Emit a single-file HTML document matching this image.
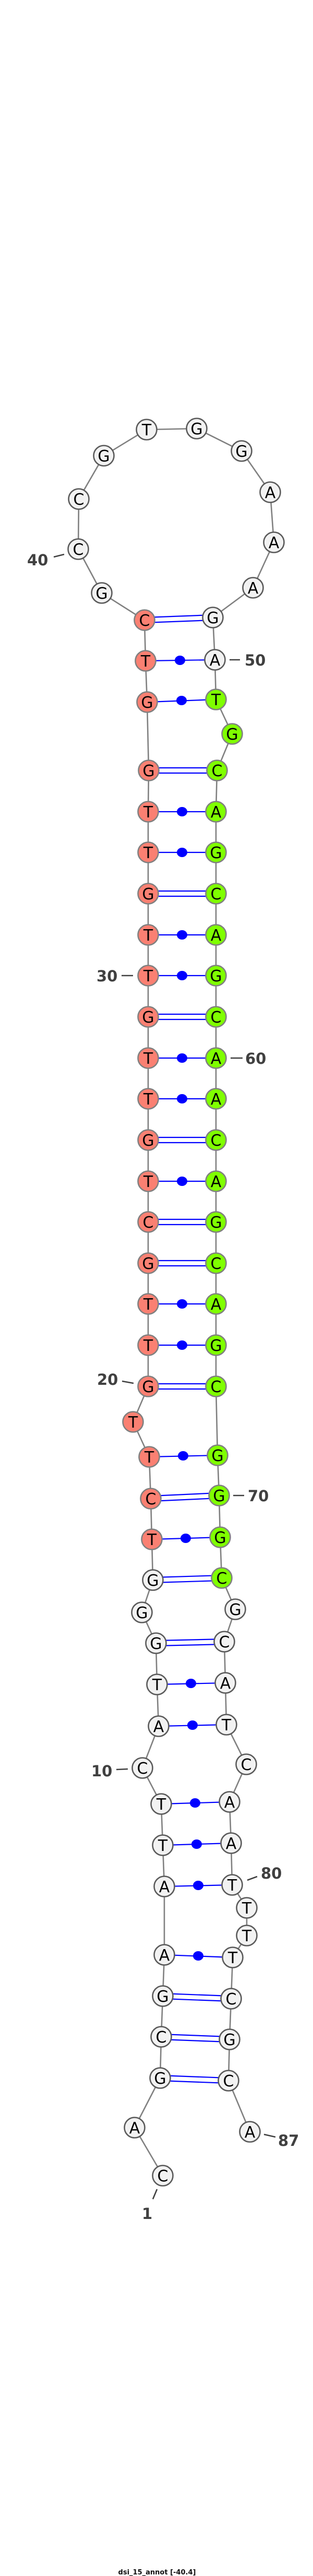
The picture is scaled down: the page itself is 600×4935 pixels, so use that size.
<!DOCTYPE html>
<html><head><meta charset="utf-8"><style>
html,body{margin:0;padding:0;background:#fff;width:600px;height:4935px;overflow:hidden}
svg{display:block}
.n{stroke-width:2.6}
.w{fill:#f2f2f2;stroke:#5a5a5a}
.r{fill:#fa8072;stroke:#808080}
.g{fill:#7fff00;stroke:#808080}
.t{font-family:"DejaVu Sans","Liberation Sans",sans-serif;font-size:30px;text-anchor:middle;fill:#000}
.l{font-family:"DejaVu Sans","Liberation Sans",sans-serif;font-size:29px;font-weight:bold;fill:#404040}
.k{stroke:#404040;stroke-width:2.6}
.p{stroke:#0000ff;stroke-width:2.2}
</style></head><body>
<svg width="600" height="4935" viewBox="0 0 600 4935" xmlns="http://www.w3.org/2000/svg">
<polyline fill="none" stroke="#808080" stroke-width="2.6" points="312,4168 258,4076 307,3981 309,3902 312,3824 315,3745 315,3614 312,3535 309,3456 273,3387 304,3307 301,3227 299,3148 272,3089 293,3027 291,2949 289,2871 286,2791 255,2724 284,2656 284,2577 284,2498 284,2420 284,2341 284,2263 284,2184 284,2105 284,2027 284,1948 284,1869 284,1791 284,1712 284,1633 284,1555 285,1476 282,1345 279,1266 277,1188 195,1136 150,1052 151,956 199,873 281,823 377,821 463,864 518,943 525,1039 485,1126 408,1183 412,1264 414,1340 445,1406 416,1476 414,1555 414,1633 414,1712 414,1791 414,1869 414,1948 414,2027 414,2105 414,2184 414,2263 414,2341 414,2420 414,2498 414,2577 414,2656 417,2788 420,2865 422,2945 425,3023 451,3083 430,3145 432,3224 434,3304 472,3380 440,3452 443,3531 445,3611 473,3655 473,3708 446,3750 443,3829 440,3907 438,3986 479,4084"/>
<!-- double pairs -->
<g class="p">
<line x1="277" y1="1183" x2="408" y2="1178"/><line x1="277" y1="1193" x2="408" y2="1188"/>
<line x1="285" y1="1471" x2="416" y2="1471"/><line x1="285" y1="1481" x2="416" y2="1481"/>
<line x1="284" y1="1707" x2="414" y2="1707"/><line x1="284" y1="1717" x2="414" y2="1717"/>
<line x1="284" y1="1943" x2="414" y2="1943"/><line x1="284" y1="1953" x2="414" y2="1953"/>
<line x1="284" y1="2179" x2="414" y2="2179"/><line x1="284" y1="2189" x2="414" y2="2189"/>
<line x1="284" y1="2336" x2="414" y2="2336"/><line x1="284" y1="2346" x2="414" y2="2346"/>
<line x1="284" y1="2415" x2="414" y2="2415"/><line x1="284" y1="2425" x2="414" y2="2425"/>
<line x1="284" y1="2651" x2="414" y2="2651"/><line x1="284" y1="2661" x2="414" y2="2661"/>
<line x1="289" y1="2866" x2="420" y2="2860"/><line x1="289" y1="2876" x2="420" y2="2870"/>
<line x1="293" y1="3022" x2="425" y2="3018"/><line x1="293" y1="3032" x2="425" y2="3028"/>
<line x1="299" y1="3143" x2="430" y2="3140"/><line x1="299" y1="3153" x2="430" y2="3150"/>
<line x1="312" y1="3819" x2="443" y2="3824"/><line x1="312" y1="3829" x2="443" y2="3834"/>
<line x1="309" y1="3897" x2="440" y2="3902"/><line x1="309" y1="3907" x2="440" y2="3912"/>
<line x1="307" y1="3976" x2="438" y2="3981"/><line x1="307" y1="3986" x2="438" y2="3991"/>
<!-- single pairs -->
<line x1="279" y1="1266" x2="412" y2="1264"/>
<line x1="282" y1="1345" x2="414" y2="1340"/>
<line x1="284" y1="1555" x2="414" y2="1555"/>
<line x1="284" y1="1633" x2="414" y2="1633"/>
<line x1="284" y1="1791" x2="414" y2="1791"/>
<line x1="284" y1="1869" x2="414" y2="1869"/>
<line x1="284" y1="2027" x2="414" y2="2027"/>
<line x1="284" y1="2105" x2="414" y2="2105"/>
<line x1="284" y1="2263" x2="414" y2="2263"/>
<line x1="284" y1="2498" x2="414" y2="2498"/>
<line x1="284" y1="2577" x2="414" y2="2577"/>
<line x1="286" y1="2791" x2="417" y2="2788"/>
<line x1="291" y1="2949" x2="422" y2="2945"/>
<line x1="301" y1="3227" x2="432" y2="3224"/>
<line x1="304" y1="3307" x2="434" y2="3304"/>
<line x1="309" y1="3456" x2="440" y2="3452"/>
<line x1="312" y1="3535" x2="443" y2="3531"/>
<line x1="315" y1="3614" x2="445" y2="3611"/>
<line x1="315" y1="3745" x2="446" y2="3750"/>
</g>
<g fill="#0000ff">
<ellipse cx="345" cy="1265" rx="10" ry="9"/><ellipse cx="348" cy="1342" rx="10" ry="9"/>
<ellipse cx="349" cy="1555" rx="10" ry="9"/><ellipse cx="349" cy="1633" rx="10" ry="9"/>
<ellipse cx="349" cy="1791" rx="10" ry="9"/><ellipse cx="349" cy="1869" rx="10" ry="9"/>
<ellipse cx="349" cy="2027" rx="10" ry="9"/><ellipse cx="349" cy="2105" rx="10" ry="9"/>
<ellipse cx="349" cy="2263" rx="10" ry="9"/><ellipse cx="349" cy="2498" rx="10" ry="9"/>
<ellipse cx="349" cy="2577" rx="10" ry="9"/><ellipse cx="351" cy="2789" rx="10" ry="9"/>
<ellipse cx="356" cy="2947" rx="10" ry="9"/><ellipse cx="366" cy="3225" rx="10" ry="9"/>
<ellipse cx="369" cy="3305" rx="10" ry="9"/><ellipse cx="374" cy="3454" rx="10" ry="9"/>
<ellipse cx="377" cy="3533" rx="10" ry="9"/><ellipse cx="380" cy="3612" rx="10" ry="9"/>
<ellipse cx="380" cy="3747" rx="10" ry="9"/>
</g>
<!-- nodes -->
<g class="n">
<circle class="w" cx="312" cy="4168" r="19.5"/><circle class="w" cx="258" cy="4076" r="19.5"/>
<circle class="w" cx="307" cy="3981" r="19.5"/><circle class="w" cx="309" cy="3902" r="19.5"/>
<circle class="w" cx="312" cy="3824" r="19.5"/><circle class="w" cx="315" cy="3745" r="19.5"/>
<circle class="w" cx="315" cy="3614" r="19.5"/><circle class="w" cx="312" cy="3535" r="19.5"/>
<circle class="w" cx="309" cy="3456" r="19.5"/><circle class="w" cx="273" cy="3387" r="19.5"/>
<circle class="w" cx="304" cy="3307" r="19.5"/><circle class="w" cx="301" cy="3227" r="19.5"/>
<circle class="w" cx="299" cy="3148" r="19.5"/><circle class="w" cx="272" cy="3089" r="19.5"/>
<circle class="w" cx="293" cy="3027" r="19.5"/>
<circle class="r" cx="291" cy="2949" r="19.5"/><circle class="r" cx="289" cy="2871" r="19.5"/>
<circle class="r" cx="286" cy="2791" r="19.5"/><circle class="r" cx="255" cy="2724" r="19.5"/>
<circle class="r" cx="284" cy="2656" r="19.5"/><circle class="r" cx="284" cy="2577" r="19.5"/>
<circle class="r" cx="284" cy="2498" r="19.5"/><circle class="r" cx="284" cy="2420" r="19.5"/>
<circle class="r" cx="284" cy="2341" r="19.5"/><circle class="r" cx="284" cy="2263" r="19.5"/>
<circle class="r" cx="284" cy="2184" r="19.5"/><circle class="r" cx="284" cy="2105" r="19.5"/>
<circle class="r" cx="284" cy="2027" r="19.5"/><circle class="r" cx="284" cy="1948" r="19.5"/>
<circle class="r" cx="284" cy="1869" r="19.5"/><circle class="r" cx="284" cy="1791" r="19.5"/>
<circle class="r" cx="284" cy="1712" r="19.5"/><circle class="r" cx="284" cy="1633" r="19.5"/>
<circle class="r" cx="284" cy="1555" r="19.5"/><circle class="r" cx="285" cy="1476" r="19.5"/>
<circle class="r" cx="282" cy="1345" r="19.5"/><circle class="r" cx="279" cy="1266" r="19.5"/>
<circle class="r" cx="277" cy="1188" r="19.5"/>
<circle class="w" cx="195" cy="1136" r="19.5"/><circle class="w" cx="150" cy="1052" r="19.5"/>
<circle class="w" cx="151" cy="956" r="19.5"/><circle class="w" cx="199" cy="873" r="19.5"/>
<circle class="w" cx="281" cy="823" r="19.5"/><circle class="w" cx="377" cy="821" r="19.5"/>
<circle class="w" cx="463" cy="864" r="19.5"/><circle class="w" cx="518" cy="943" r="19.5"/>
<circle class="w" cx="525" cy="1039" r="19.5"/><circle class="w" cx="485" cy="1126" r="19.5"/>
<circle class="w" cx="408" cy="1183" r="19.5"/><circle class="w" cx="412" cy="1264" r="19.5"/>
<circle class="g" cx="414" cy="1340" r="19.5"/><circle class="g" cx="445" cy="1406" r="19.5"/>
<circle class="g" cx="416" cy="1476" r="19.5"/><circle class="g" cx="414" cy="1555" r="19.5"/>
<circle class="g" cx="414" cy="1633" r="19.5"/><circle class="g" cx="414" cy="1712" r="19.5"/>
<circle class="g" cx="414" cy="1791" r="19.5"/><circle class="g" cx="414" cy="1869" r="19.5"/>
<circle class="g" cx="414" cy="1948" r="19.5"/><circle class="g" cx="414" cy="2027" r="19.5"/>
<circle class="g" cx="414" cy="2105" r="19.5"/><circle class="g" cx="414" cy="2184" r="19.5"/>
<circle class="g" cx="414" cy="2263" r="19.5"/><circle class="g" cx="414" cy="2341" r="19.5"/>
<circle class="g" cx="414" cy="2420" r="19.5"/><circle class="g" cx="414" cy="2498" r="19.5"/>
<circle class="g" cx="414" cy="2577" r="19.5"/><circle class="g" cx="414" cy="2656" r="19.5"/>
<circle class="g" cx="417" cy="2788" r="19.5"/><circle class="g" cx="420" cy="2865" r="19.5"/>
<circle class="g" cx="422" cy="2945" r="19.5"/><circle class="g" cx="425" cy="3023" r="19.5"/>
<circle class="w" cx="451" cy="3083" r="19.5"/><circle class="w" cx="430" cy="3145" r="19.5"/>
<circle class="w" cx="432" cy="3224" r="19.5"/><circle class="w" cx="434" cy="3304" r="19.5"/>
<circle class="w" cx="472" cy="3380" r="19.5"/><circle class="w" cx="440" cy="3452" r="19.5"/>
<circle class="w" cx="443" cy="3531" r="19.5"/><circle class="w" cx="445" cy="3611" r="19.5"/>
<circle class="w" cx="473" cy="3655" r="19.5"/><circle class="w" cx="473" cy="3708" r="19.5"/>
<circle class="w" cx="446" cy="3750" r="19.5"/><circle class="w" cx="443" cy="3829" r="19.5"/>
<circle class="w" cx="440" cy="3907" r="19.5"/><circle class="w" cx="438" cy="3986" r="19.5"/>
<circle class="w" cx="479" cy="4084" r="19.5"/>
</g>
<g class="t">
<text x="312" y="4179">C</text><text x="258" y="4087">A</text><text x="307" y="3992">G</text><text x="309" y="3913">C</text>
<text x="312" y="3835">G</text><text x="315" y="3756">A</text><text x="315" y="3625">A</text><text x="312" y="3546">T</text>
<text x="309" y="3467">T</text><text x="273" y="3398">C</text><text x="304" y="3318">A</text><text x="301" y="3238">T</text>
<text x="299" y="3159">G</text><text x="272" y="3100">G</text><text x="293" y="3038">G</text><text x="291" y="2960">T</text>
<text x="289" y="2882">C</text><text x="286" y="2802">T</text><text x="255" y="2735">T</text><text x="284" y="2667">G</text>
<text x="284" y="2588">T</text><text x="284" y="2509">T</text><text x="284" y="2431">G</text><text x="284" y="2352">C</text>
<text x="284" y="2274">T</text><text x="284" y="2195">G</text><text x="284" y="2116">T</text><text x="284" y="2038">T</text>
<text x="284" y="1959">G</text><text x="284" y="1880">T</text><text x="284" y="1802">T</text><text x="284" y="1723">G</text>
<text x="284" y="1644">T</text><text x="284" y="1566">T</text><text x="285" y="1487">G</text><text x="282" y="1356">G</text>
<text x="279" y="1277">T</text><text x="277" y="1199">C</text><text x="195" y="1147">G</text><text x="150" y="1063">C</text>
<text x="151" y="967">C</text><text x="199" y="884">G</text><text x="281" y="834">T</text><text x="377" y="832">G</text>
<text x="463" y="875">G</text><text x="518" y="954">A</text><text x="525" y="1050">A</text><text x="485" y="1137">A</text>
<text x="408" y="1194">G</text><text x="412" y="1275">A</text><text x="414" y="1351">T</text><text x="445" y="1417">G</text>
<text x="416" y="1487">C</text><text x="414" y="1566">A</text><text x="414" y="1644">G</text><text x="414" y="1723">C</text>
<text x="414" y="1802">A</text><text x="414" y="1880">G</text><text x="414" y="1959">C</text><text x="414" y="2038">A</text>
<text x="414" y="2116">A</text><text x="414" y="2195">C</text><text x="414" y="2274">A</text><text x="414" y="2352">G</text>
<text x="414" y="2431">C</text><text x="414" y="2509">A</text><text x="414" y="2588">G</text><text x="414" y="2667">C</text>
<text x="417" y="2799">G</text><text x="420" y="2876">G</text><text x="422" y="2956">G</text><text x="425" y="3034">C</text>
<text x="451" y="3094">G</text><text x="430" y="3156">C</text><text x="432" y="3235">A</text><text x="434" y="3315">T</text>
<text x="472" y="3391">C</text><text x="440" y="3463">A</text><text x="443" y="3542">A</text><text x="445" y="3622">T</text>
<text x="473" y="3666">T</text><text x="473" y="3719">T</text><text x="446" y="3761">T</text><text x="443" y="3840">C</text>
<text x="440" y="3918">G</text><text x="438" y="3997">C</text><text x="479" y="4095">A</text>
</g>
<g class="k">
<line x1="103" y1="1067" x2="123" y2="1062"/>
<line x1="440" y1="1264" x2="460" y2="1264"/>
<line x1="233" y1="1869" x2="255" y2="1869"/>
<line x1="442" y1="2027" x2="465" y2="2027"/>
<line x1="234" y1="2646" x2="256" y2="2650"/>
<line x1="447" y1="2865" x2="468" y2="2865"/>
<line x1="223" y1="3390" x2="245" y2="3389"/>
<line x1="474" y1="3602" x2="493" y2="3595"/>
<line x1="506" y1="4089" x2="528" y2="4094"/>
<line x1="301" y1="4194" x2="293" y2="4213"/>
</g>
<g class="l">
<text x="52" y="1083">40</text>
<text x="469" y="1275">50</text>
<text x="185" y="1880">30</text>
<text x="470" y="2038">60</text>
<text x="186" y="2653">20</text>
<text x="475" y="2876">70</text>
<text x="175" y="3403">10</text>
<text x="500" y="3599">80</text>
<text x="533" y="4111">87</text>
<text x="272" y="4251">1</text>
</g>
<text x="301" y="4932" font-family="DejaVu Sans, Liberation Sans, sans-serif" font-size="13" font-weight="bold" text-anchor="middle" fill="#111">dsi_15_annot [-40.4]</text>
</svg>
</body></html>
